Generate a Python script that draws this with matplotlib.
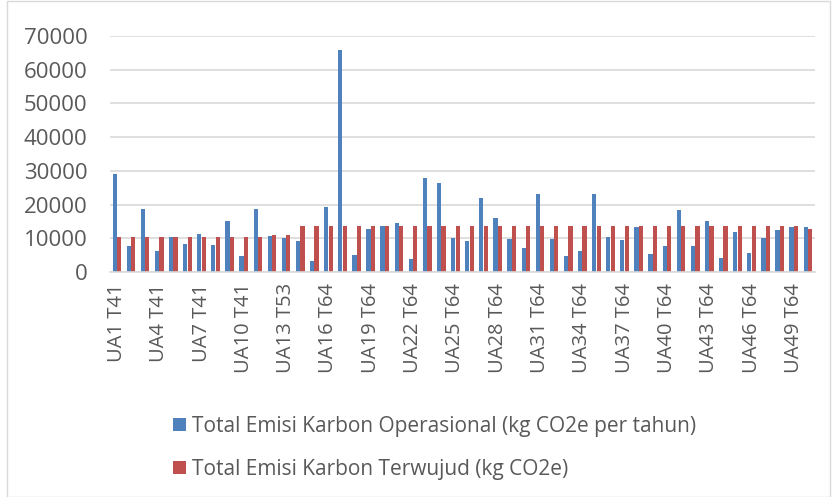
import matplotlib
matplotlib.use("Agg")
import matplotlib.pyplot as plt
import numpy as np
from matplotlib.patches import Rectangle

types = ["T41"] * 11 + ["T53"] * 2 + ["T64"] * 37
categories = [f"UA{i+1} {t}" for i, t in enumerate(types)]

operasional = [29000, 7800, 18700, 6300, 10300, 8200, 11300, 8000, 15000, 4800,
               18600, 10800, 10200, 9100, 3400, 19200, 65700, 5000, 12800, 13500,
               14600, 3800, 27900, 26300, 10100, 9300, 22000, 16000, 9900, 7200,
               23200, 9800, 4800, 6300, 23100, 10400, 9600, 13300, 5300, 7700,
               18300, 7600, 15100, 4200, 12000, 5500, 10000, 12500, 13400, 13300]

terwujud = [10500] * 11 + [11000] * 2 + [13500] * 36 + [12800]

series_labels = ["Total Emisi Karbon Operasional (kg CO2e per tahun)",
                 "Total Emisi Karbon Terwujud (kg CO2e)"]
yticks = [0, 10000, 20000, 30000, 40000, 50000, 60000, 70000]

plt.rcParams['font.family'] = ['Open Sans', 'DejaVu Sans']
txt = "#595959"

fig = plt.figure(figsize=(8.32, 4.97), dpi=100)
ax = fig.add_axes([0.132, 0.4527, 0.8476, 0.4749])

x = np.arange(len(categories))
w = 0.3
b1 = ax.bar(x - w / 2 - 0.01, operasional, width=w, color="#4f81bd", label=series_labels[0])
b2 = ax.bar(x + w / 2 + 0.01, terwujud, width=w, color="#c0504d", label=series_labels[1])

ax.set_xlim(-0.5, len(categories) - 0.5)
ax.set_ylim(0, 70000)
ax.set_yticks(yticks)
ax.set_yticklabels([str(v) for v in yticks], fontsize=16, color=txt)
ax.yaxis.grid(True, color="#d9d9d9", linewidth=1.2)
ax.set_axisbelow(True)
ax.tick_params(axis="y", length=0, pad=16)
ax.set_xticks(x[::3])
ax.set_xticklabels(categories[::3], rotation=90, fontsize=14.5, color=txt)
ax.tick_params(axis="x", length=0, pad=8)
for s in ["top", "right", "left"]:
    ax.spines[s].set_visible(False)
ax.spines["bottom"].set_color("#d9d9d9")
ax.spines["bottom"].set_linewidth(1.2)

leg = fig.legend(handles=[b1, b2], labels=series_labels, loc="upper left",
                 bbox_to_anchor=(0.198, 0.18), frameon=False, fontsize=15,
                 handlelength=0.6, handleheight=0.6, handletextpad=0.3,
                 labelspacing=1.04, borderaxespad=0)
for t in leg.get_texts():
    t.set_color(txt)

fig.patches.append(Rectangle((0.008, 0.001), 0.99, 0.997, transform=fig.transFigure,
                             fill=False, edgecolor="#d9d9d9", linewidth=1))

fig.savefig("out.png", dpi=100)
